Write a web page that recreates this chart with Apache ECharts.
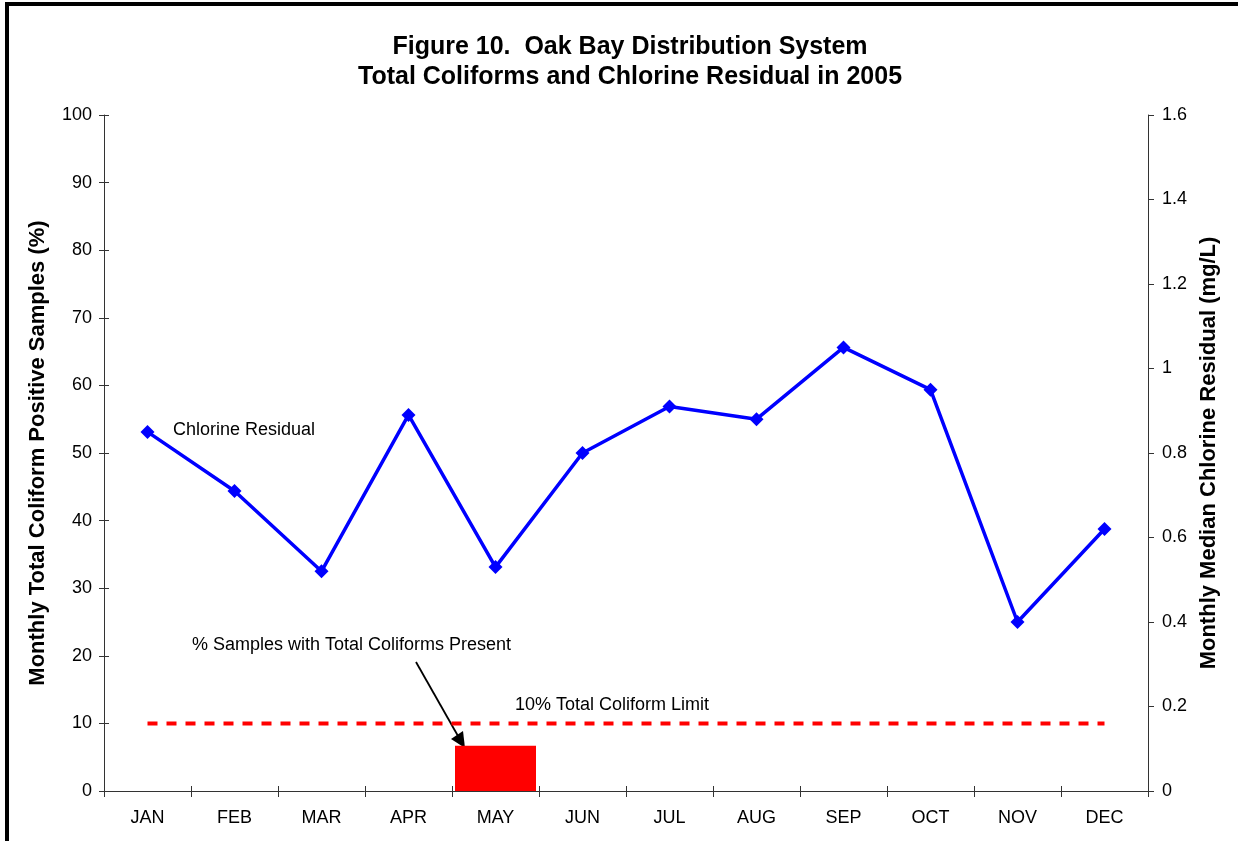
<!DOCTYPE html>
<html>
<head>
<meta charset="utf-8">
<script src="https://cdn.jsdelivr.net/npm/echarts@6/dist/echarts.min.js"></script>
<style>
  html, body { margin: 0; padding: 0; background: #fff; }
  #chart { width: 1238px; height: 841px; }
</style>
</head>
<body>
<div id="chart"></div>
<script>
// months on the x axis
const months = ['JAN', 'FEB', 'MAR', 'APR', 'MAY', 'JUN', 'JUL', 'AUG', 'SEP', 'OCT', 'NOV', 'DEC']
// % samples with total coliforms present (only May had positives)
const coliformPct = [null, null, null, null, 6.7, null, null, null, null, null, null, null]
// 10% total coliform limit
const coliformLimit = [10, 10, 10, 10, 10, 10, 10, 10, 10, 10, 10, 10]
// monthly median chlorine residual, mg/L
const chlorine = [0.85, 0.71, 0.52, 0.89, 0.53, 0.80, 0.91, 0.88, 1.05, 0.95, 0.40, 0.62]

const font = 'Liberation Sans, Arial, sans-serif'
const axisColor = '#333'

const chart = echarts.init(document.getElementById('chart'))

const option = {
  backgroundColor: '#fff',
  animation: false,
  title: {
    text: 'Figure 10.  Oak Bay Distribution System\nTotal Coliforms and Chlorine Residual in 2005',
    left: 625,
    top: 27,
    textAlign: 'center',
    textStyle: {
      fontFamily: font,
      fontWeight: 'bold',
      fontSize: 25,
      lineHeight: 30,
      color: '#000',
    },
  },
  grid: { left: 104, right: 90, top: 115, bottom: 50 },
  xAxis: [
    {
      type: 'category',
      data: months,
      boundaryGap: true,
      axisLine: { lineStyle: { color: axisColor, width: 1 } },
      axisTick: { show: true, length: 6, lineStyle: { color: axisColor } },
      axisLabel: { color: '#000', fontFamily: font, fontSize: 18, margin: 18 },
      splitLine: { show: false },
    },
    {
      // inner half of the crossing ticks
      type: 'category',
      data: months,
      position: 'bottom',
      boundaryGap: true,
      axisLine: { show: false },
      axisTick: { show: true, inside: true, length: 5, lineStyle: { color: axisColor } },
      axisLabel: { show: false },
      splitLine: { show: false },
    },
  ],
  yAxis: [
    {
      type: 'value',
      min: 0,
      max: 100,
      interval: 10,
      position: 'left',
      name: 'Monthly Total Coliform Positive Samples (%)',
      nameLocation: 'middle',
      nameRotate: 90,
      nameGap: 55,
      nameTextStyle: { fontFamily: font, fontWeight: 'bold', fontSize: 22, color: '#000' },
      axisLine: { show: true, lineStyle: { color: axisColor, width: 1 } },
      axisTick: { show: true, length: 5, lineStyle: { color: axisColor } },
      axisLabel: { color: '#000', fontFamily: font, fontSize: 18, margin: 12 },
      splitLine: { show: false },
    },
    {
      type: 'value',
      min: 0,
      max: 1.6,
      interval: 0.2,
      position: 'right',
      name: 'Monthly Median Chlorine Residual (mg/L)',
      nameLocation: 'middle',
      nameRotate: 90,
      nameGap: 50,
      nameTextStyle: { fontFamily: font, fontWeight: 'bold', fontSize: 22, color: '#000' },
      axisLine: { show: true, lineStyle: { color: axisColor, width: 1 } },
      axisTick: { show: true, length: 6, lineStyle: { color: axisColor } },
      axisLabel: { color: '#000', fontFamily: font, fontSize: 18, margin: 14 },
      splitLine: { show: false },
    },
    {
      // inner half of the crossing ticks on the left axis
      type: 'value',
      min: 0,
      max: 100,
      interval: 10,
      position: 'left',
      axisLine: { show: false },
      axisTick: { show: true, inside: true, length: 5, lineStyle: { color: axisColor } },
      axisLabel: { show: false },
      splitLine: { show: false },
    },
  ],
  series: [
    {
      name: '% Samples with Total Coliforms Present',
      type: 'bar',
      data: coliformPct,
      yAxisIndex: 0,
      barWidth: 81,
      itemStyle: { color: '#ff0000' },
    },
    {
      name: '10% Total Coliform Limit',
      type: 'line',
      data: coliformLimit,
      yAxisIndex: 0,
      showSymbol: false,
      symbol: 'none',
      lineStyle: { color: '#ff0000', width: 4, type: [10, 9] },
    },
    {
      name: 'Chlorine Residual',
      type: 'line',
      data: chlorine,
      yAxisIndex: 1,
      symbol: 'diamond',
      symbolSize: 14,
      itemStyle: { color: '#0000ff' },
      lineStyle: { color: '#0000ff', width: 3.5 },
      z: 5,
    },
  ],
  graphic: [
    {
      type: 'rect',
      shape: { x: 7, y: 4, width: 1400, height: 1000 },
      style: { fill: 'none', stroke: '#000', lineWidth: 4 },
      silent: true,
    },
    {
      type: 'text',
      x: 173,
      y: 430,
      style: { text: 'Chlorine Residual', fontFamily: font, fontSize: 18, fill: '#000', verticalAlign: 'middle' },
    },
    {
      type: 'text',
      x: 192,
      y: 645,
      style: { text: '% Samples with Total Coliforms Present', fontFamily: font, fontSize: 18, fill: '#000', verticalAlign: 'middle' },
    },
    {
      type: 'text',
      x: 515,
      y: 705,
      style: { text: '10% Total Coliform Limit', fontFamily: font, fontSize: 18, fill: '#000', verticalAlign: 'middle' },
    },
    {
      type: 'line',
      shape: { x1: 416, y1: 662, x2: 458, y2: 736 },
      style: { stroke: '#000', lineWidth: 1.8 },
    },
    {
      type: 'polygon',
      shape: { points: [[465, 748], [451, 739], [463, 731]] },
      style: { fill: '#000' },
    },
  ],
}

chart.setOption(option)
</script>
</body>
</html>
